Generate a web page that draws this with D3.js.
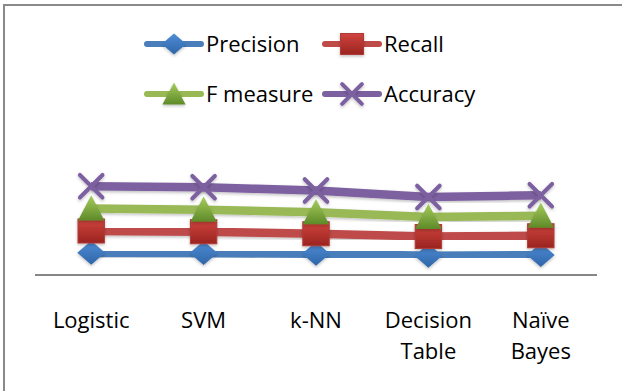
<!DOCTYPE html>
<html><head><meta charset="utf-8">
<script src="https://cdn.jsdelivr.net/npm/d3@7"></script>
<style>html,body{margin:0;padding:0;background:#fff;overflow:hidden}</style>
</head><body>
<svg id="chart" width="622" height="391"></svg>
<script>
const categories = ["Logistic", "SVM", "k-NN", "Decision Table", "Naïve Bayes"];
const precision = [0.89, 0.88, 0.85, 0.77, 0.80];
const recall    = [0.87, 0.85, 0.80, 0.77, 0.77];
const fmeasure  = [0.90, 0.88, 0.86, 0.78, 0.80];
const accuracy  = [0.89, 0.90, 0.87, 0.80, 0.82];
const seriesNames = ["Precision", "Recall", "F measure", "Accuracy"];

const seriesVals = [precision, recall, fmeasure, accuracy];
const colors = ["#4A7EBB", "#BE4B48", "#98B954", "#7D60A0"];
const markerTypes = ["diamond", "square", "triangle", "x"];

const svg = d3.select("#chart");
const font = "'Open Sans', sans-serif";

const defs = svg.append("defs");
const grads = [["#4F8DD6","#2F65A8"],["#D0443E","#9A2420"],["#A6CC5C","#5E8A28"],["#8064A2","#6A4E8E"]];
grads.forEach((g,i)=>{
  const lg = defs.append("linearGradient").attr("id","g"+i).attr("x1",0).attr("y1",0).attr("x2",0).attr("y2",1);
  lg.append("stop").attr("offset","0%").attr("stop-color",g[0]);
  lg.append("stop").attr("offset","100%").attr("stop-color",g[1]);
});
const flt = defs.append("filter").attr("id","sh").attr("x","-50%").attr("y","-50%").attr("width","200%").attr("height","200%");
flt.append("feDropShadow").attr("dx",0).attr("dy",1.5).attr("stdDeviation",1.5).attr("flood-color","#000").attr("flood-opacity",0.25);

svg.append("rect").attr("x",4).attr("y",5).attr("width",640).attr("height",420)
  .attr("fill","none").attr("stroke","#8a8a8a").attr("stroke-width",2);

const x = d3.scalePoint().domain(categories).range([35, 597]).padding(0.5);
const y = d3.scaleLinear().domain([0, 5]).range([275, 150]);

const stacked = [];
seriesVals.forEach((vals, si) => {
  stacked.push(vals.map((v, i) => (si === 0 ? 0 : stacked[si-1][i]) + v));
});

function drawMarker(g, type, cx, cy, si, s) {
  if (type === "diamond") {
    g.append("path").attr("d", `M${cx},${cy-s*0.5}L${cx+s*0.58},${cy}L${cx},${cy+s*0.5}L${cx-s*0.58},${cy}Z`)
      .attr("fill", `url(#g${si})`).attr("filter","url(#sh)");
  } else if (type === "square") {
    g.append("rect").attr("x", cx-s*0.55).attr("y", cy-s*0.5).attr("width", s*1.1).attr("height", s)
      .attr("fill", `url(#g${si})`).attr("stroke","#B03A36").attr("stroke-width",1).attr("filter","url(#sh)");
  } else if (type === "triangle") {
    g.append("path").attr("d", `M${cx},${cy-s*0.55}L${cx+s*0.55},${cy+s*0.5}L${cx-s*0.55},${cy+s*0.5}Z`)
      .attr("fill", `url(#g${si})`).attr("filter","url(#sh)");
  } else {
    const h = s*0.47;
    g.append("path").attr("d", `M${cx-h},${cy-h}L${cx+h},${cy+h}M${cx+h},${cy-h}L${cx-h},${cy+h}`)
      .attr("stroke", colors[si]).attr("stroke-width", 4).attr("stroke-linecap","round").attr("fill","none")
      .attr("filter","url(#sh)");
  }
}

svg.append("line").attr("x1", 35).attr("x2", 597).attr("y1", y(0)).attr("y2", y(0))
  .attr("stroke", "#868686").attr("stroke-width", 2);

const line = d3.line().x((d, i) => x(categories[i])).y(d => y(d));
stacked.forEach((vals, si) => {
  const g = svg.append("g");
  g.append("path").datum(vals).attr("d", line).attr("fill", "none")
    .attr("stroke", colors[si]).attr("stroke-width", 8.5).attr("stroke-linejoin","round").attr("filter","url(#sh)");
  vals.forEach((v, i) => drawMarker(g, markerTypes[si], x(categories[i]), y(v), si, 24));
});

categories.forEach(c => {
  const parts = c.split(" ");
  const t = svg.append("text").attr("x", x(c)).attr("y", 328).attr("text-anchor", "middle")
    .attr("font-family", font).attr("font-size", 22).attr("fill", "#000");
  parts.forEach((p, k) => t.append("tspan").attr("x", x(c)).attr("dy", k === 0 ? 0 : 31).text(p));
});

const legendPos = [[147, 44], [325, 44], [147, 94], [325, 94]];
seriesNames.forEach((n, si) => {
  const [lx, ly] = legendPos[si];
  const g = svg.append("g");
  g.append("line").attr("x1", lx).attr("x2", lx + 54).attr("y1", ly).attr("y2", ly)
    .attr("stroke", colors[si]).attr("stroke-width", 6).attr("stroke-linecap","round");
  drawMarker(g, markerTypes[si], lx + 27, ly, si, 21);
  g.append("text").attr("x", lx + 59).attr("y", ly + 8).attr("font-family", font)
    .attr("font-size", 22).attr("fill", "#000").text(n);
});
</script>
</body></html>
